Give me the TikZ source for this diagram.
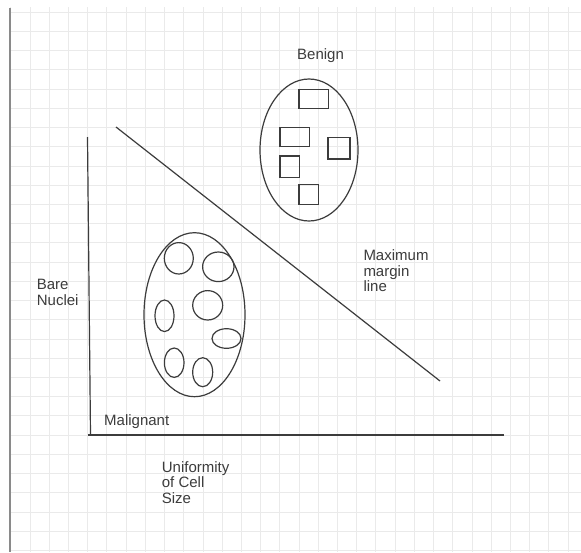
\documentclass[tikz,border=0pt]{standalone}
\usepackage{fontspec}
\setmainfont{Liberation Sans}
\usetikzlibrary{shapes.geometric}
\definecolor{ink}{HTML}{3C3C3C}
\definecolor{gridc}{HTML}{EAEAEA}
\definecolor{framec}{HTML}{8A8A8A}
\begin{document}
\begin{tikzpicture}[x=1pt,y=-1pt,
  gridline/.style={draw=gridc,line width=1pt},
  frameline/.style={draw=framec,line width=1.4pt},
  inkline/.style={draw=ink,line width=1.2pt},
  blob/.style={ellipse,draw=ink,line width=1.2pt,inner sep=0pt,outer sep=0pt},
  cell/.style={rectangle,draw=ink,line width=1.2pt,inner sep=0pt,outer sep=0pt},
  lbl/.style={font=\fontsize{15}{15.6}\selectfont,text=ink,inner sep=0pt,anchor=base west,align=left}]
\useasboundingbox (0,0) rectangle (581,552);
\fill[white] (0,0) rectangle (581,552);
% grid
\foreach \i in {0,...,29} \draw[gridline] ({10.8+19.22*\i},7) -- ({10.8+19.22*\i},552);
\foreach \j in {0,...,28} \draw[gridline] (10,{12.3+19.22*\j}) -- (581,{12.3+19.22*\j});
\draw[frameline] (10,8) -- (10,552);
% axes and margin line
\coordinate (ytop) at (87.5,137);
\coordinate (yorg) at (90.5,435);
\coordinate (xorg) at (88,435);
\coordinate (xend) at (504,435);
\coordinate (mstart) at (116,127);
\coordinate (mend) at (440,381);
\draw[inkline] (ytop) -- (yorg);
\draw[inkline] (xorg) -- (xend);
\draw[inkline] (mstart) -- (mend);
% benign cluster
\node[blob,minimum width=98,minimum height=142] (benign) at (309,150) {};
\node[cell,minimum width=29.7,minimum height=19] (r1) at (313.8,98.8) {};
\node[cell,minimum width=29.3,minimum height=19.4] (r2) at (294.7,137) {};
\node[cell,minimum width=22,minimum height=21.7] (r3) at (339,148.2) {};
\node[cell,minimum width=19.3,minimum height=21.7] (r4) at (289.7,166.8) {};
\node[cell,minimum width=19.7,minimum height=20] (r5) at (308.8,194.7) {};
% malignant cluster
\node[blob,minimum width=101,minimum height=164] (malig) at (194.5,314.7) {};
\node[blob,minimum width=29,minimum height=31.4] (e1) at (178.8,258.3) {};
\node[blob,minimum width=31.4,minimum height=29.6] (e2) at (218.3,266.8) {};
\node[blob,minimum width=30,minimum height=29.4] (e3) at (207.7,305.3) {};
\node[blob,minimum width=19,minimum height=31.6] (e4) at (164.5,315.8) {};
\node[blob,minimum width=29,minimum height=19.6] (e5) at (226.5,338.5) {};
\node[blob,minimum width=19.6,minimum height=29.4] (e6) at (174.2,362.7) {};
\node[blob,minimum width=20,minimum height=29] (e7) at (202.7,372.2) {};
% labels (multi-line nodes anchored at the baseline of their last line)
\node[lbl] (tbenign) at (297,59.3) {Benign};
\node[lbl] (tbare) at (36.7,305) {Bare\\Nuclei};
\node[lbl] (tmalig) at (104,425) {Malignant};
\node[lbl] (tmax) at (363.3,291.7) {Maximum\\margin\\line};
\node[lbl] (tunif) at (161.7,503.3) {Uniformity\\of Cell\\Size};
\end{tikzpicture}
\end{document}
